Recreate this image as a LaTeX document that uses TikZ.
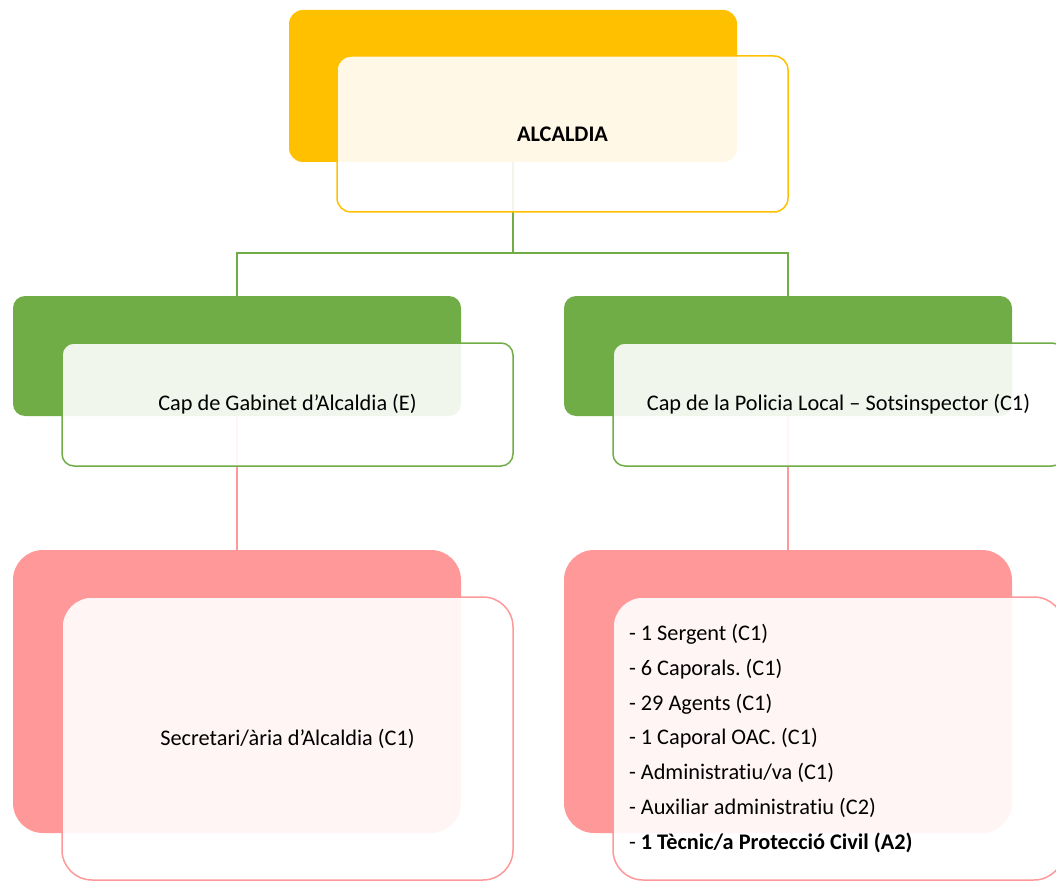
\documentclass[tikz,border=0pt]{standalone}
\usepackage{fontspec}
\setmainfont{Carlito}[Ligatures=NoCommon]
\usetikzlibrary{positioning,calc}
\definecolor{alcgold}{HTML}{FFC000}
\definecolor{capgreen}{HTML}{70AD47}
\definecolor{staffpink}{HTML}{FF9999}
\frenchspacing

\begin{document}
\begin{tikzpicture}[x=1pt,y=-1pt]
		\tikzset{
			every node/.style={font=\fontsize{22.3pt}{34.8pt}\selectfont, inner sep=0pt},
			backbox/.style={fill=#1, minimum width=448pt},
			frontbox/.style={draw=#1, line width=1.5pt, fill=white, fill opacity=0.9,
					text opacity=1, minimum width=451pt},
			wire/.style={draw=#1, line width=1.8pt},
		}
		\useasboundingbox (0,0) rectangle (1056,882);
		%
		\node[backbox=alcgold, minimum height=152pt, rounded corners=14pt] at (513,86) (alcBack) {};
		\node[backbox=capgreen, minimum height=120pt, rounded corners=12pt] at (237,356) (gabBack) {};
		\node[backbox=capgreen, minimum height=120pt, rounded corners=12pt] at (788,356) (polBack) {};
		\node[backbox=staffpink, minimum height=283pt, rounded corners=30pt] at (237,691.5) (secBack) {};
		\node[backbox=staffpink, minimum height=283pt, rounded corners=30pt] at (788,691.5) (agBack) {};
		%
		\coordinate (split) at ($(alcBack.south)+(0,91)$);
		\draw[wire=capgreen] (alcBack.south) -- (split);
		\draw[wire=capgreen] (gabBack.north) |- (split) -| (polBack.north);
		\draw[wire=staffpink] (gabBack.south) -- (secBack.north);
		\draw[wire=staffpink] (polBack.south) -- (agBack.north);
		%
		\node[frontbox=alcgold, minimum height=156pt, rounded corners=14pt]
			at ($(alcBack)+(49.5,48)$) (alcFront) {\textbf{ALCALDIA}};
		\node[frontbox=capgreen, minimum height=123pt, rounded corners=12pt]
			at ($(gabBack)+(50.5,48.5)$) (gabFront) {Cap de Gabinet d’Alcaldia (E)};
		\node[frontbox=capgreen, minimum height=123pt, rounded corners=12pt]
			at ($(polBack)+(50.5,48.5)$) (polFront) {Cap de la Policia Local – Sotsinspector (C1)};
		\node[frontbox=staffpink, minimum height=283pt, rounded corners=30pt]
			at ($(secBack)+(50.5,47)$) (secFront) {Secretari/ària d’Alcaldia (C1)};
		\node[frontbox=staffpink, minimum height=283pt, rounded corners=30pt,
			text width=419pt, inner xsep=16pt, align=flush left]
			at ($(agBack)+(50.5,47)$) (agFront) {%
			- 1 Sergent (C1)\\
			- 6 Caporals. (C1)\\
			- 29 Agents (C1)\\
			- 1 Caporal OAC. (C1)\\
			- Administratiu/va (C1)\\
			- Auxiliar administratiu (C2)\\
			- \textbf{1 Tècnic/a Protecció Civil (A2)}};
\end{tikzpicture}
\end{document}
